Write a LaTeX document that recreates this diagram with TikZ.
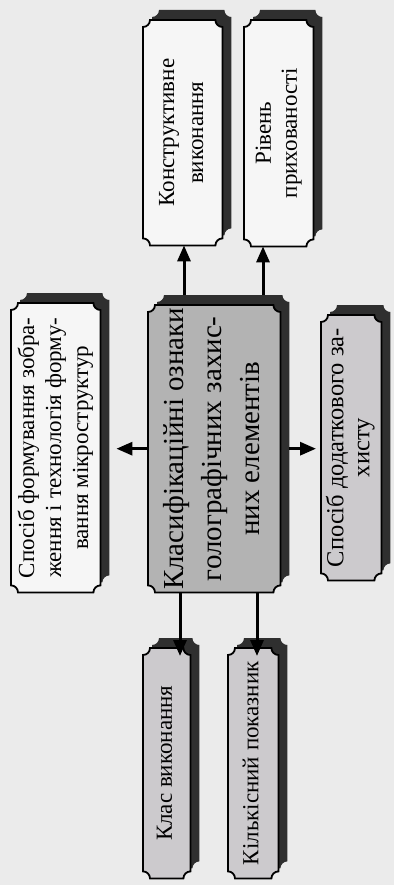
\documentclass[tikz,border=0pt]{standalone}
\usepackage{fontspec}
\setmainfont{Liberation Serif}
\usetikzlibrary{calc,arrows.meta,backgrounds}
\definecolor{pagebg}{HTML}{EBEBEB}
\definecolor{whitebox}{HTML}{F6F6F6}
\definecolor{midgray}{HTML}{B3B3B3}
\definecolor{lightgray}{HTML}{CCCACD}
\definecolor{shadowc}{HTML}{2F2F2F}
\newcommand\tktpath{(\x1+7pt,\y1) -- (\x2-7pt,\y1) .. controls (\x2-7pt,\y1-3.85pt) and (\x2-3.85pt,\y1-7pt) .. (\x2,\y1-7pt) -- (\x2,\y2+7pt) .. controls (\x2-3.85pt,\y2+7pt) and (\x2-7pt,\y2+3.85pt) .. (\x2-7pt,\y2) -- (\x1+7pt,\y2) .. controls (\x1+7pt,\y2+3.85pt) and (\x1+3.85pt,\y2+7pt) .. (\x1,\y2+7pt) -- (\x1,\y1-7pt) .. controls (\x1+3.85pt,\y1-7pt) and (\x1+7pt,\y1-3.85pt) .. (\x1+7pt,\y1) -- cycle}
\newcommand\tkt[2]{%
  \fill[shadowc] let \p1=($(#1.north west)+(9pt,10pt)$), \p2=($(#1.south east)+(9pt,10pt)$) in \tktpath;
  \filldraw[fill=#2,draw=black,line width=1.8pt] let \p1=(#1.north west), \p2=(#1.south east) in \tktpath;
}
\newcommand\vtext[3]{\rotatebox{90}{\fontsize{#1}{#2}\selectfont\begin{tabular}{@{}c@{}}#3\end{tabular}}}
\tikzset{
  boxnode/.style={rectangle,inner sep=0pt,anchor=north west},
  arr/.style={line width=3pt,-{Triangle[length=16pt,width=13pt]}}
}
\begin{document}
\begin{tikzpicture}[x=1pt,y=-1pt]
\useasboundingbox (0,0) rectangle (394,885);
% nodes
\node[boxnode,minimum width=79pt,minimum height=225pt] (b1) at (143,20)
  {\vtext{23}{29}{Конструктивне\\виконання}};
\node[boxnode,minimum width=69pt,minimum height=226pt] (b2) at (244,20)
  {\vtext{23}{26}{Рівень\\прихованості}};
\node[boxnode,minimum width=132pt,minimum height=287pt] (c) at (148,305)
  {\vtext{29}{38}{Класифікаційні ознаки\\голографічних захис-\\них елементів}};
\node[boxnode,minimum width=89pt,minimum height=289pt] (l) at (11,303)
  {\vtext{23}{27}{Спосіб формування зобра-\\ження і технологія форму-\\вання мікроструктур}};
\node[boxnode,minimum width=60pt,minimum height=265pt] (r) at (321,315)
  {\vtext{24.5}{26}{Спосіб додаткового за-\\хисту}};
\node[boxnode,minimum width=47pt,minimum height=230pt] (k1) at (143,648)
  {\vtext{23}{26}{Клас виконання}};
\node[boxnode,minimum width=50pt,minimum height=230pt] (k2) at (228,648)
  {\vtext{23}{26}{Кількісний показник}};
\begin{scope}[on background layer]
  \fill[pagebg] (0,0) rectangle (394,885);
  \tkt{b1}{whitebox}
  \tkt{b2}{whitebox}
  \tkt{c}{midgray}
  \tkt{l}{whitebox}
  \tkt{r}{lightgray}
  \tkt{k1}{lightgray}
  \tkt{k2}{lightgray}
\end{scope}
% connectors
\draw[arr] ([xshift=36pt,yshift=10pt]c.north west) -- ([xshift=36pt]c.north west |- b1.south);
\draw[arr] ([xshift=115pt,yshift=10pt]c.north west) -- ([xshift=115pt]c.north west |- b2.south);
\draw[arr] (c.west) -- ([xshift=16pt]l.east |- c.west);
\draw[arr] ([xshift=9pt]c.east) -- ([xshift=-5pt]r.west |- c.east);
\draw[arr] ([xshift=32pt]c.south west) -- ([xshift=32pt,yshift=-8pt]c.south west |- k1.north);
\draw[arr] ([xshift=109pt]c.south west) -- ([xshift=109pt,yshift=-8pt]c.south west |- k2.north);
\end{tikzpicture}
\end{document}
